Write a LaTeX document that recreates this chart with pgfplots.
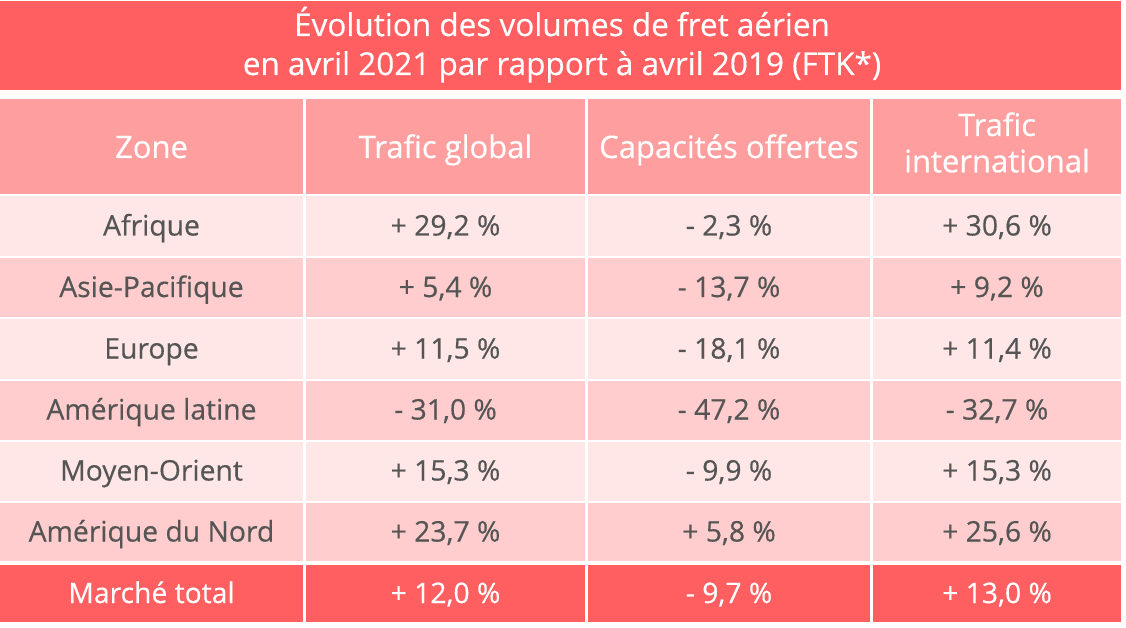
\documentclass[border=0pt]{standalone}
\usepackage{fontspec}
\setmainfont{Open Sans}[FakeBold=0.4]
\usepackage{pgfplots}
\pgfplotsset{compat=1.18}
\definecolor{titred}{HTML}{FF5F61}
\definecolor{headpink}{HTML}{FF9E9F}
\definecolor{rowlight}{HTML}{FFE7E7}
\definecolor{rowdark}{HTML}{FFCDCD}
\definecolor{txtgray}{HTML}{555555}
\tikzset{
  body/.style={font=\fontsize{28.3}{30}\selectfont, text=txtgray, anchor=base, inner sep=0pt},
  bodyw/.style={font=\fontsize{28.3}{30}\selectfont, text=white, anchor=base, inner sep=0pt},
  head/.style={font=\fontsize{31}{35}\selectfont, text=white, anchor=base, inner sep=0pt},
  tit/.style={font=\fontsize{31.5}{35}\selectfont, text=white, anchor=base, inner sep=0pt},
}
\newcommand{\cell}[5]{\addplot[fill=#5,draw=none] coordinates {(#1,#3) (#2,#3) (#2,#4) (#1,#4)} --cycle;}
\begin{document}
\begin{tikzpicture}
\begin{axis}[
  width=1126pt, height=628pt, scale only axis,
  xmin=0, xmax=1126, ymin=0, ymax=628, y dir=reverse,
  hide axis, clip=false,
]
% background to fix bounding box
\addplot[fill=white,draw=none] coordinates {(0,0) (1126,0) (1126,628) (0,628)} --cycle;
% title band
\cell{0}{1121}{1.5}{90.5}{titred}
% header cells
\cell{0}{303}{99}{194}{headpink}
\cell{306}{585}{99}{194}{headpink}
\cell{588}{870}{99}{194}{headpink}
\cell{873}{1121}{99}{194}{headpink}
% rows
\cell{0}{303}{196}{256}{rowlight}\cell{306}{585}{196}{256}{rowlight}\cell{588}{870}{196}{256}{rowlight}\cell{873}{1121}{196}{256}{rowlight}
\cell{0}{303}{258}{317}{rowdark}\cell{306}{585}{258}{317}{rowdark}\cell{588}{870}{258}{317}{rowdark}\cell{873}{1121}{258}{317}{rowdark}
\cell{0}{303}{319}{378.5}{rowlight}\cell{306}{585}{319}{378.5}{rowlight}\cell{588}{870}{319}{378.5}{rowlight}\cell{873}{1121}{319}{378.5}{rowlight}
\cell{0}{303}{381}{439.5}{rowdark}\cell{306}{585}{381}{439.5}{rowdark}\cell{588}{870}{381}{439.5}{rowdark}\cell{873}{1121}{381}{439.5}{rowdark}
\cell{0}{303}{442}{500.5}{rowlight}\cell{306}{585}{442}{500.5}{rowlight}\cell{588}{870}{442}{500.5}{rowlight}\cell{873}{1121}{442}{500.5}{rowlight}
\cell{0}{303}{503}{561}{rowdark}\cell{306}{585}{503}{561}{rowdark}\cell{588}{870}{503}{561}{rowdark}\cell{873}{1121}{503}{561}{rowdark}
\cell{0}{303}{565}{622}{titred}\cell{306}{585}{565}{622}{titred}\cell{588}{870}{565}{622}{titred}\cell{873}{1121}{565}{622}{titred}
% title
\node[tit] at (axis cs:562,36) {Évolution des volumes de fret aérien};
\node[tit] at (axis cs:562,75) {en avril 2021 par rapport à avril 2019 (FTK*)};
% header text
\node[head] at (axis cs:151.5,158) {Zone};
\node[head] at (axis cs:445.5,158) {Trafic global};
\node[head] at (axis cs:729,158) {Capacités offertes};
\node[head] at (axis cs:997,136) {Trafic};
\node[head] at (axis cs:997,172.3) {international};
% body
\node[body] at (axis cs:151.5,235.5) {Afrique};
\node[body] at (axis cs:445.5,235.5) {+ 29,2 \%};
\node[body] at (axis cs:729,235.5) {- 2,3 \%};
\node[body] at (axis cs:997,235.5) {+ 30,6 \%};
\node[body] at (axis cs:151.5,297) {Asie-Pacifique};
\node[body] at (axis cs:445.5,297) {+ 5,4 \%};
\node[body] at (axis cs:729,297) {- 13,7 \%};
\node[body] at (axis cs:997,297) {+ 9,2 \%};
\node[body] at (axis cs:151.5,358.5) {Europe};
\node[body] at (axis cs:445.5,358.5) {+ 11,5 \%};
\node[body] at (axis cs:729,358.5) {- 18,1 \%};
\node[body] at (axis cs:997,358.5) {+ 11,4 \%};
\node[body] at (axis cs:151.5,419.5) {Amérique latine};
\node[body] at (axis cs:445.5,419.5) {- 31,0 \%};
\node[body] at (axis cs:729,419.5) {- 47,2 \%};
\node[body] at (axis cs:997,419.5) {- 32,7 \%};
\node[body] at (axis cs:151.5,480.5) {Moyen-Orient};
\node[body] at (axis cs:445.5,480.5) {+ 15,3 \%};
\node[body] at (axis cs:729,480.5) {- 9,9 \%};
\node[body] at (axis cs:997,480.5) {+ 15,3 \%};
\node[body] at (axis cs:151.5,541.5) {Amérique du Nord};
\node[body] at (axis cs:445.5,541.5) {+ 23,7 \%};
\node[body] at (axis cs:729,541.5) {+ 5,8 \%};
\node[body] at (axis cs:997,541.5) {+ 25,6 \%};
\node[bodyw] at (axis cs:151.5,603) {Marché total};
\node[bodyw] at (axis cs:445.5,603) {+ 12,0 \%};
\node[bodyw] at (axis cs:729,603) {- 9,7 \%};
\node[bodyw] at (axis cs:997,603) {+ 13,0 \%};
\end{axis}
\end{tikzpicture}
\end{document}
